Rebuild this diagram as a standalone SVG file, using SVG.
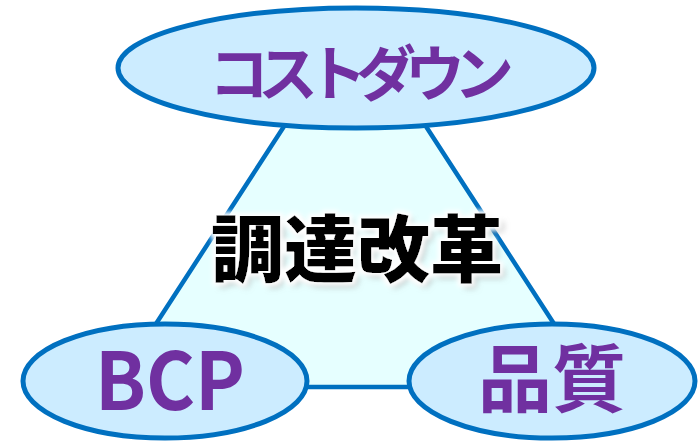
<svg xmlns="http://www.w3.org/2000/svg" width="700" height="441" viewBox="0 0 700 441">
<defs>
<style>
.node{fill:#CCECFF;stroke:#0070C0;stroke-width:5}
.lbl{font-family:"Noto Sans CJK JP","Noto Sans",sans-serif;font-weight:bold;fill:#7030A0;text-anchor:middle}
.center{font-family:"Noto Sans CJK JP",sans-serif;font-weight:900;fill:#000;text-anchor:middle}
</style>
<filter id="glow" x="-20%" y="-40%" width="140%" height="180%">
<feGaussianBlur in="SourceAlpha" stdDeviation="3" result="b"/>
<feOffset in="b" dx="4" dy="4" result="o"/>
<feFlood flood-color="#888" flood-opacity="0.7"/>
<feComposite in2="o" operator="in" result="sh"/>
<feMorphology in="SourceAlpha" operator="dilate" radius="3" result="d"/>
<feGaussianBlur in="d" stdDeviation="2" result="db"/>
<feFlood flood-color="#fff"/>
<feComposite in2="db" operator="in" result="wg"/>
<feMerge><feMergeNode in="sh"/><feMergeNode in="wg"/><feMergeNode in="SourceGraphic"/></feMerge>
</filter>
</defs>
<g id="connectors">
<polygon points="355,17 115,387 595,387" fill="#E6FFFF" stroke="#0070C0" stroke-width="4.5" stroke-linejoin="round"/>
</g>
<g id="center">
<text class="center" x="357" y="276" font-size="73" filter="url(#glow)">調達改革</text>
</g>
<g id="node-cost">
<ellipse class="node" cx="356" cy="68" rx="238" ry="60"/>
<text class="lbl" x="356" y="96" font-size="60" letter-spacing="-11">コストダウン</text>
</g>
<g id="node-bcp">
<ellipse class="node" cx="165" cy="381" rx="142" ry="57"/>
<text class="lbl" x="170" y="410" font-size="80" textLength="150" lengthAdjust="spacingAndGlyphs">BCP</text>
</g>
<g id="node-quality">
<ellipse class="node" cx="552" cy="381" rx="143" ry="57"/>
<text class="lbl" x="552" y="406" font-size="74">品質</text>
</g>
</svg>
